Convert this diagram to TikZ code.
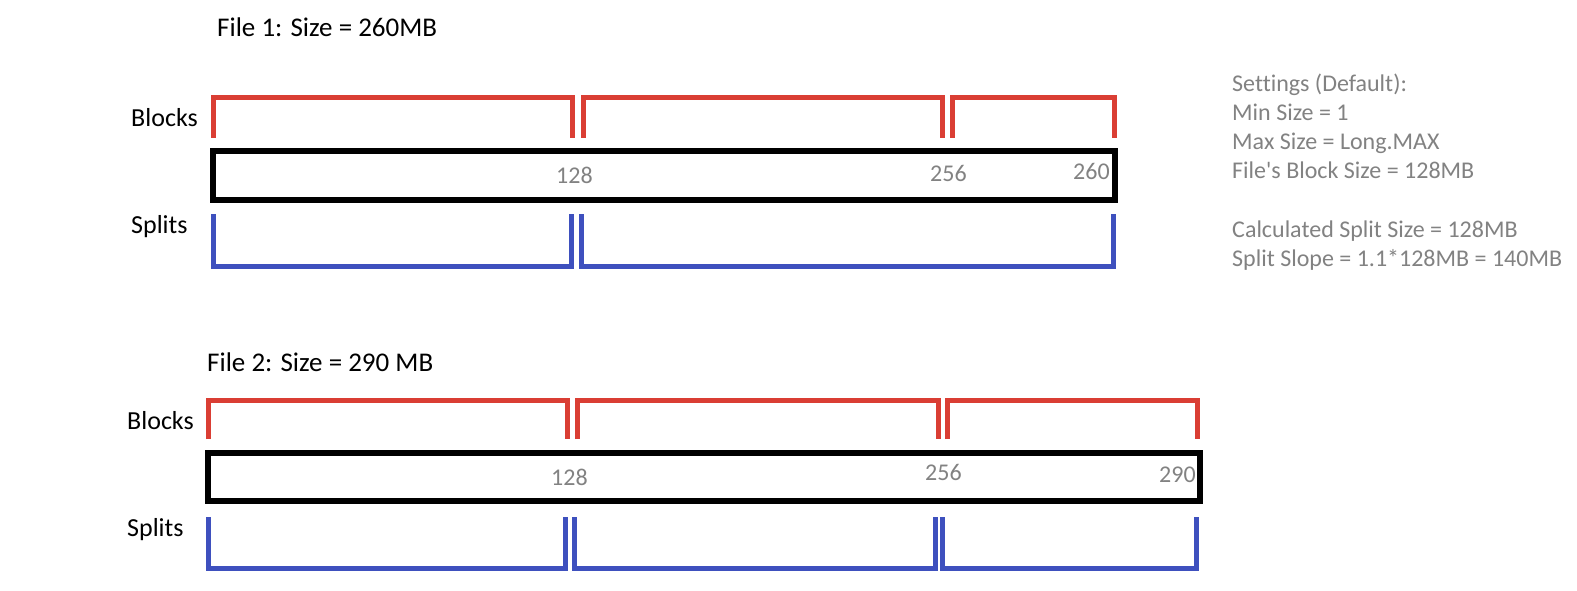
\documentclass[tikz,border=0pt]{standalone}
\usepackage{fontspec}
\setmainfont{Carlito}[Ligatures=NoCommon]
\definecolor{blockred}{RGB}{218,62,52}
\definecolor{splitblue}{RGB}{62,80,190}
\definecolor{numgray}{RGB}{130,130,130}
\begin{document}
\begin{tikzpicture}[x=1pt,y=-1pt,
  blockline/.style={draw=blockred,line width=5pt,line join=miter},
  splitline/.style={draw=splitblue,line width=5pt,line join=miter},
  filebox/.style={draw=black,line width=6pt,line join=miter},
  title/.style={anchor=west,inner sep=0pt,font=\fontsize{27}{32}\selectfont},
  rowlabel/.style={anchor=west,inner sep=0pt,font=\fontsize{26}{31}\selectfont},
  num/.style={anchor=west,inner sep=0pt,text=numgray,font=\fontsize{24}{29}\selectfont},
  settings/.style={anchor=north west,inner sep=0pt,text=numgray,align=left,font=\fontsize{24}{29.2}\selectfont}]
\useasboundingbox (0,0) rectangle (1577,591);
\fill[white] (0,0) rectangle (1577,591);

% ---------- File 1 ----------
\node[title] (t1) at (217,27) {File 1: Size = 260MB};
\node[rowlabel] (b1) at (131,118) {Blocks};
\node[rowlabel] (s1) at (131,227) {Splits};

\draw[blockline] (213,138) -- (213,97.5) -- (572,97.5) -- (572,138);
\draw[blockline] (583,138) -- (583,97.5) -- (942,97.5) -- (942,138);
\draw[blockline] (952,138) -- (952,97.5) -- (1114,97.5) -- (1114,138);

\draw[filebox] (213,151) rectangle (1115,200);
\node[num] (n11) at (556,175) {128};
\node[num] (n12) at (930,173) {256};
\node[num] (n13) at (1073,171) {260};

\draw[splitline] (213,214) -- (213,266) -- (571,266) -- (571,214);
\draw[splitline] (581,214) -- (581,266) -- (1113,266) -- (1113,214);

% ---------- Settings ----------
\node[settings] (set) at (1232,73.5) {Settings (Default):\\Min Size = 1\\Max Size = Long.MAX\\File\textquotesingle s Block Size = 128MB\\[29.2pt]Calculated Split Size = 128MB\\Split Slope = 1.1*128MB = 140MB};

% ---------- File 2 ----------
\node[title] (t2) at (207,362) {File 2: Size = 290 MB};
\node[rowlabel] (b2) at (127,421) {Blocks};
\node[rowlabel] (s2) at (127,530) {Splits};

\draw[blockline] (208,439) -- (208,400) -- (567,400) -- (567,439);
\draw[blockline] (577,439) -- (577,400) -- (938,400) -- (938,439);
\draw[blockline] (947,439) -- (947,400) -- (1197,400) -- (1197,439);

\draw[filebox] (208,453) rectangle (1200,501);
\node[num] (n21) at (551,477) {128};
\node[num] (n22) at (925,472) {256};
\node[num] (n23) at (1159,475) {290};

\draw[splitline] (208,517) -- (208,568) -- (565,568) -- (565,517);
\draw[splitline] (574,517) -- (574,568) -- (935,568) -- (935,517);
\draw[splitline] (942,517) -- (942,568) -- (1196,568) -- (1196,517);
\end{tikzpicture}
\end{document}
